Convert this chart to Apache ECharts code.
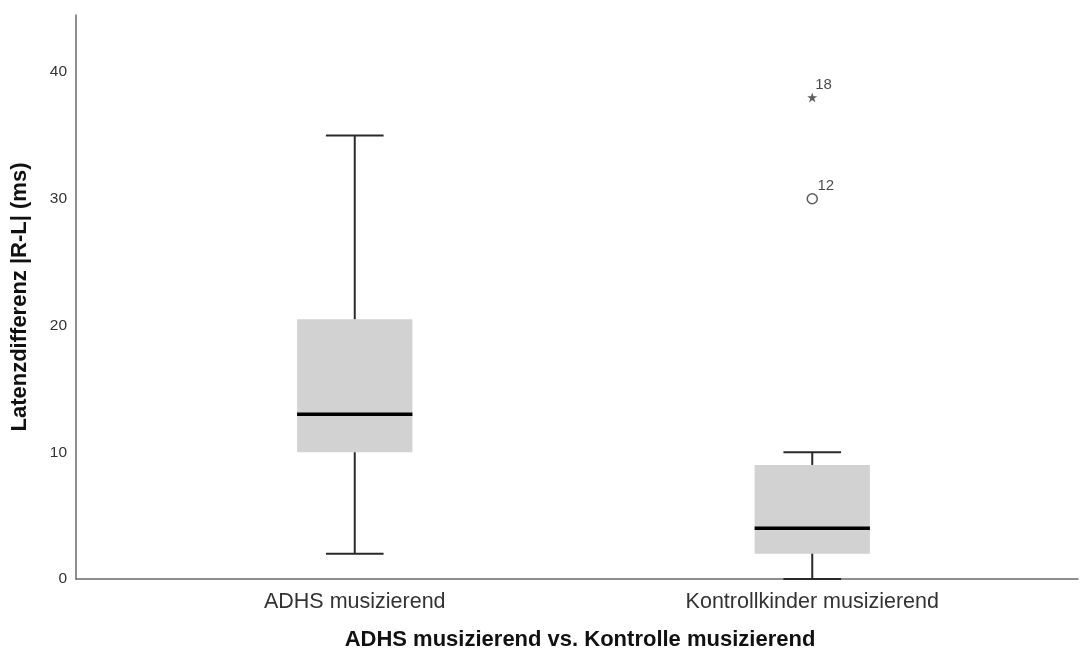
<!DOCTYPE html>
<html>
<head>
<meta charset="utf-8">
<script src="https://cdn.jsdelivr.net/npm/echarts@6/dist/echarts.min.js"></script>
<style>
  html, body { margin: 0; padding: 0; background: #fff; }
  #chart { width: 1081px; height: 657px; }
</style>
</head>
<body>
<div id="chart"></div>
<script>
// Groups on the x axis
const categories = ['ADHS musizierend', 'Kontrollkinder musizierend'];
// Box statistics per group: [lower whisker, Q1, median, Q3, upper whisker]
const boxStats = [
  [2, 10, 13, 20.5, 35],
  [0, 2, 4, 9, 10]
];
// Outliers: [group index, value, case number]
const outliersCircle = [[1, 30, '12']];
const outliersExtreme = [[1, 38, '18']];
// Y-axis ticks
const yTicks = [0, 10, 20, 30, 40];

const FONT = '"Liberation Sans", Arial, sans-serif';
const yMax = 44.5;

const starPath = 'path://M50,0 L61.8,35.5 L99,35.5 L69,57.5 L80.9,93 L50,71 L19.1,93 L31,57.5 L1,35.5 L38.2,35.5 Z';

const chart = echarts.init(document.getElementById('chart'), null, { renderer: 'canvas' });

const option = {
  backgroundColor: '#ffffff',
  animation: false,
  grid: [
    // frame grid: carries the visible axis lines
    { left: 76, right: 3, top: 15, bottom: 78 },
    // data grid: carries the groups
    { left: 126, right: 40, top: 15, bottom: 78 }
  ],
  xAxis: [
    {
      gridIndex: 0, type: 'value', min: 0, max: 1,
      axisLine: { show: true, lineStyle: { color: '#6b6b6b', width: 1.5 } },
      axisTick: { show: false }, axisLabel: { show: false }, splitLine: { show: false }
    },
    {
      gridIndex: 1, type: 'category', data: categories,
      axisLine: { show: false }, axisTick: { show: false }, splitLine: { show: false },
      axisLabel: { fontFamily: FONT, fontSize: 21.5, color: '#333', margin: 12 },
      name: 'ADHS musizierend vs. Kontrolle musizierend',
      nameLocation: 'middle', nameGap: 50,
      nameTextStyle: { fontFamily: FONT, fontSize: 22, fontWeight: 'bold', color: '#111', padding: [0, 7, 0, 0] }
    }
  ],
  yAxis: [
    {
      gridIndex: 0, type: 'value', min: 0, max: yMax, interval: 10,
      axisLine: { show: true, lineStyle: { color: '#6b6b6b', width: 1.5 } },
      axisTick: { show: false }, splitLine: { show: false },
      axisLabel: {
        fontFamily: FONT, fontSize: 15.5, color: '#333', margin: 9,
        showMaxLabel: false,
        formatter: v => (yTicks.indexOf(v) >= 0 ? String(v) : '')
      },
      name: 'Latenzdifferenz |R-L| (ms)',
      nameLocation: 'middle', nameGap: 45,
      nameTextStyle: { fontFamily: FONT, fontSize: 22, fontWeight: 'bold', color: '#111' }
    },
    {
      gridIndex: 1, type: 'value', min: 0, max: yMax, interval: 10,
      show: false
    }
  ],
  series: [
    {
      type: 'custom',
      xAxisIndex: 1, yAxisIndex: 1,
      data: boxStats.map((s, i) => [i].concat(s)),
      renderItem: function (params, api) {
        const xi = api.value(0);
        const lo = api.value(1), q1 = api.value(2), med = api.value(3), q3 = api.value(4), hi = api.value(5);
        const band = api.size([1, 0])[0];
        const boxW = band * 0.252;
        const capW = boxW * 0.5;
        const pLo = api.coord([xi, lo]);
        const pQ1 = api.coord([xi, q1]);
        const pMed = api.coord([xi, med]);
        const pQ3 = api.coord([xi, q3]);
        const pHi = api.coord([xi, hi]);
        const cx = pMed[0];
        const whisker = { stroke: '#2a2a2a', lineWidth: 2 };
        return {
          type: 'group',
          children: [
            { type: 'rect', shape: { x: cx - boxW / 2, y: pQ3[1], width: boxW, height: pQ1[1] - pQ3[1] },
              style: { fill: '#d2d2d2' } },
            { type: 'line', shape: { x1: cx, y1: pQ3[1], x2: cx, y2: pHi[1] }, style: whisker },
            { type: 'line', shape: { x1: cx, y1: pQ1[1], x2: cx, y2: pLo[1] }, style: whisker },
            { type: 'line', shape: { x1: cx - capW / 2, y1: pHi[1], x2: cx + capW / 2, y2: pHi[1] }, style: whisker },
            { type: 'line', shape: { x1: cx - capW / 2, y1: pLo[1], x2: cx + capW / 2, y2: pLo[1] }, style: whisker },
            { type: 'line', shape: { x1: cx - boxW / 2, y1: pMed[1], x2: cx + boxW / 2, y2: pMed[1] },
              style: { stroke: '#000', lineWidth: 3.5 } }
          ]
        };
      }
    },
    {
      type: 'scatter',
      xAxisIndex: 1, yAxisIndex: 1,
      symbol: 'circle', symbolSize: 10,
      itemStyle: { color: '#fff', borderColor: '#333', borderWidth: 1.5 },
      label: {
        show: true, position: [11, -15], formatter: p => p.data[2],
        fontFamily: FONT, fontSize: 15, color: '#1a1a1a'
      },
      data: outliersCircle
    },
    {
      type: 'scatter',
      xAxisIndex: 1, yAxisIndex: 1,
      symbol: starPath, symbolSize: 10,
      itemStyle: { color: '#333' },
      label: {
        show: true, position: [8, -15], formatter: p => p.data[2],
        fontFamily: FONT, fontSize: 15, color: '#1a1a1a'
      },
      data: outliersExtreme
    }
  ]
};

chart.setOption(option);
</script>
</body>
</html>
